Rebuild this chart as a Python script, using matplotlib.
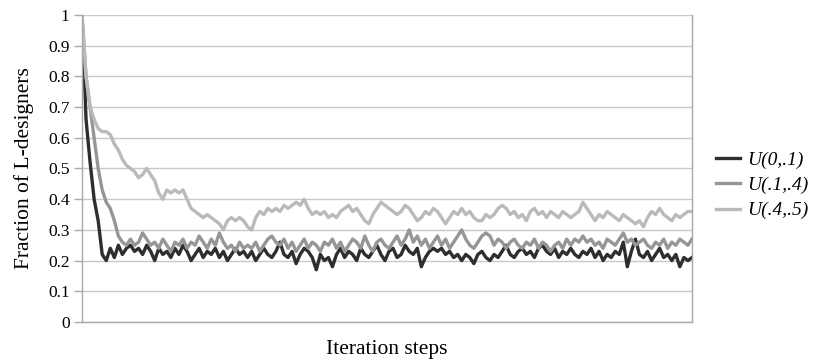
import numpy as np
import matplotlib
matplotlib.use("Agg")
import matplotlib.pyplot as plt
from matplotlib.ticker import FuncFormatter

plt.rcParams['font.family'] = ['Liberation Serif', 'DejaVu Serif']

# values, one point every ~4 px
u_0_1 = [1.0, 0.66, 0.52, 0.40, 0.33, 0.22, 0.20,
         0.24, 0.21, 0.25, 0.22, 0.24, 0.25, 0.23, 0.24, 0.22, 0.25, 0.23, 0.20, 0.24, 0.22,
         0.23, 0.21, 0.24, 0.22, 0.25, 0.23, 0.20, 0.22, 0.24, 0.21, 0.23, 0.22, 0.24, 0.21, 0.23, 0.20, 0.22, 0.24, 0.22, 0.23,
         0.21, 0.23, 0.20, 0.22, 0.24, 0.22, 0.21, 0.23, 0.26, 0.22, 0.21, 0.23, 0.19, 0.22, 0.24, 0.23, 0.21, 0.17, 0.22, 0.20,
         0.21, 0.18, 0.22, 0.24, 0.21, 0.23, 0.22, 0.20, 0.24, 0.22, 0.21, 0.23, 0.25, 0.22, 0.20, 0.23, 0.24, 0.21, 0.22, 0.25,
         0.23, 0.22, 0.24, 0.18, 0.21, 0.23, 0.24, 0.23, 0.24, 0.22, 0.23, 0.21, 0.22, 0.20, 0.22, 0.21, 0.19, 0.22, 0.23, 0.21,
         0.20, 0.22, 0.21, 0.23, 0.25, 0.22, 0.21, 0.23, 0.24, 0.22, 0.23, 0.21, 0.24, 0.25, 0.23, 0.22, 0.24, 0.21, 0.23, 0.22,
         0.24, 0.22, 0.21, 0.23, 0.22, 0.24, 0.21, 0.23, 0.20, 0.22, 0.21, 0.23, 0.22, 0.26, 0.18, 0.23, 0.27, 0.22, 0.21, 0.23,
         0.20, 0.22, 0.24, 0.21, 0.22, 0.20, 0.22, 0.18, 0.21, 0.20, 0.21]

u_1_4 = [1.0, 0.80, 0.70, 0.60, 0.50, 0.43, 0.39, 0.37, 0.33, 0.28, 0.26, 0.25,
         0.27, 0.25, 0.26, 0.29, 0.27, 0.25, 0.26, 0.24, 0.27, 0.25, 0.23, 0.26, 0.25, 0.27, 0.24, 0.26, 0.25, 0.28, 0.26, 0.24,
         0.27, 0.25, 0.29, 0.26, 0.24, 0.25, 0.23, 0.26, 0.24,
         0.25, 0.24, 0.26, 0.23, 0.25, 0.27, 0.28, 0.26, 0.25, 0.27, 0.24, 0.26, 0.23, 0.25, 0.27, 0.24, 0.26, 0.25, 0.23, 0.26,
         0.25, 0.27, 0.24, 0.26, 0.23, 0.25, 0.27, 0.26, 0.24, 0.28, 0.25, 0.23, 0.26, 0.27, 0.25, 0.24, 0.26, 0.28, 0.25, 0.27,
         0.30, 0.26, 0.28, 0.25, 0.27, 0.24, 0.26, 0.28, 0.25, 0.27, 0.24, 0.26, 0.28, 0.30, 0.27, 0.25, 0.24, 0.26, 0.28, 0.29,
         0.28, 0.25, 0.27, 0.26, 0.24, 0.26, 0.27, 0.25, 0.24, 0.26, 0.25, 0.27, 0.24, 0.26, 0.25, 0.23, 0.25, 0.26, 0.24, 0.27,
         0.25, 0.27, 0.26, 0.28, 0.26, 0.27, 0.25, 0.26, 0.24, 0.27, 0.26, 0.25, 0.27, 0.29, 0.26, 0.27, 0.25, 0.26, 0.27, 0.25,
         0.24, 0.26, 0.25, 0.27, 0.24, 0.26, 0.25, 0.27, 0.26, 0.25, 0.27]

u_4_5 = [1.0, 0.80, 0.70, 0.66, 0.63, 0.62, 0.62, 0.61, 0.58, 0.56, 0.53, 0.51, 0.50, 0.49, 0.47, 0.48, 0.50, 0.48,
         0.46, 0.42, 0.40, 0.43, 0.42, 0.43, 0.42, 0.43, 0.40, 0.37, 0.36, 0.35, 0.34, 0.35, 0.34, 0.33, 0.32, 0.30,
         0.33, 0.34, 0.33, 0.34, 0.33,
         0.31, 0.30, 0.34, 0.36, 0.35, 0.37, 0.36, 0.37, 0.36, 0.38, 0.37, 0.38, 0.39, 0.38, 0.40, 0.37, 0.35, 0.36, 0.35, 0.36,
         0.34, 0.35, 0.34, 0.36, 0.37, 0.38, 0.36, 0.37, 0.35, 0.33, 0.32, 0.35, 0.37, 0.39, 0.38, 0.37, 0.36, 0.35, 0.36, 0.38,
         0.37, 0.35, 0.33, 0.34, 0.36, 0.35, 0.37, 0.36, 0.34, 0.32, 0.34, 0.36, 0.35, 0.37, 0.35, 0.36, 0.34, 0.33, 0.33, 0.35,
         0.34, 0.35, 0.37, 0.38, 0.37, 0.35, 0.36, 0.34, 0.35, 0.33, 0.36, 0.37, 0.35, 0.36, 0.34, 0.36, 0.35, 0.34, 0.36, 0.35,
         0.34, 0.35, 0.36, 0.39, 0.37, 0.35, 0.33, 0.35, 0.34, 0.36, 0.35, 0.34, 0.33, 0.35, 0.34, 0.33, 0.32, 0.33, 0.31, 0.34,
         0.36, 0.35, 0.37, 0.35, 0.34, 0.33, 0.35, 0.34, 0.35, 0.36, 0.36]

labels = ['U(0,.1)', 'U(.1,.4)', 'U(.4,.5)']
colors = ['#2e2e2e', '#969696', '#bababa']

fig = plt.figure(figsize=(8.16, 3.63), dpi=100)
ax = fig.add_axes([0.1005, 0.113, 0.7475, 0.8457])

n = max(len(u_0_1), len(u_1_4), len(u_4_5))
for series, lab, col in zip([u_0_1, u_1_4, u_4_5], labels, colors):
    x = np.arange(len(series))
    ax.plot(x, series, color=col, lw=2.4, label=lab, solid_joinstyle='round')

ax.set_xlim(0, n - 1)
ax.set_ylim(0, 1)
ax.set_yticks(np.arange(0, 1.01, 0.1))
ax.yaxis.set_major_formatter(FuncFormatter(lambda v, p: f"{v:g}"))
ax.set_xticks([])
ax.grid(axis='y', color='#c8c8c8', lw=1.0)
ax.set_axisbelow(True)

for s in ['left', 'bottom', 'right']:
    ax.spines[s].set_color('#a8a8a8')
    ax.spines[s].set_linewidth(1.0)
ax.spines['top'].set_visible(False)
ax.tick_params(axis='y', length=6, width=1.0, color='#a8a8a8', labelsize=12.5, pad=3)

ax.set_ylabel('Fraction of L-designers', fontsize=15.5, labelpad=10)
ax.set_xlabel('Iteration steps', fontsize=15.5, labelpad=13)

leg = fig.legend(loc='center left', bbox_to_anchor=(0.878, 0.49), frameon=False,
                 borderpad=0, borderaxespad=0, handlelength=1.2, handletextpad=0.4,
                 labelspacing=0.4, prop={'style': 'italic', 'size': 14})

fig.savefig('out.png', dpi=100)
